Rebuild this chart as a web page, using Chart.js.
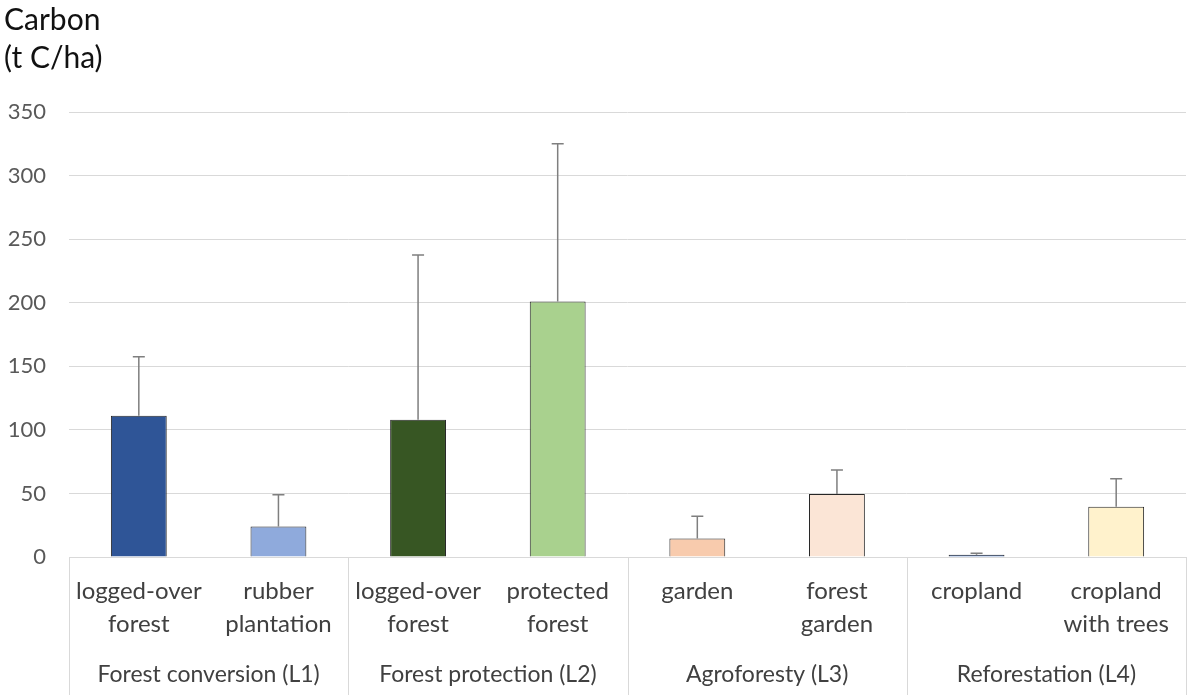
<!DOCTYPE html>
<html>
<head>
<meta charset="utf-8">
<script src="https://cdn.jsdelivr.net/npm/chart.js@4.4.0/dist/chart.umd.min.js"></script>
<style>
  body { margin: 0; background: #fff; }
  canvas { display: block; }
</style>
</head>
<body>
<canvas id="carbon-chart" width="1187" height="695"></canvas>
<script>
const categories = [
  ['logged-over', 'forest'], ['rubber', 'plantation'],
  ['logged-over', 'forest'], ['protected', 'forest'],
  ['garden'], ['forest', 'garden'],
  ['cropland'], ['cropland', 'with trees']
];
const groups = ['Forest conversion (L1)', 'Forest protection (L2)', 'Agroforesty (L3)', 'Reforestation (L4)'];
const carbon = [111, 24, 108, 201, 14.5, 49.5, 1.7, 39.5];
const errorUp = [46.5, 25, 129.5, 124, 17.5, 19, 1.3, 22];
const barColors = ['#2F5597', '#8FAADC', '#375623', '#A9D18E', '#F8CBAD', '#FBE5D6', '#3A6BC8', '#FFF2CC'];
const yTicks = [0, 50, 100, 150, 200, 250, 300, 350];

const FONT = 'Lato, "Liberation Sans", sans-serif';

// upward error bars drawn from the y scale
const errorBars = {
  id: 'errorBars',
  afterDatasetsDraw(chart) {
    const ctx = chart.ctx;
    const yScale = chart.scales.y;
    const meta = chart.getDatasetMeta(0);
    ctx.save();
    ctx.strokeStyle = '#7f7f7f';
    ctx.lineWidth = 1.5;
    meta.data.forEach((bar, i) => {
      const top = yScale.getPixelForValue(carbon[i] + errorUp[i]);
      ctx.beginPath();
      ctx.moveTo(bar.x, bar.y);
      ctx.lineTo(bar.x, top);
      ctx.moveTo(bar.x - 6, top);
      ctx.lineTo(bar.x + 6, top);
      ctx.stroke();
    });
    ctx.restore();
  }
};

// group labels + separators under the axis
const groupAxis = {
  id: 'groupAxis',
  afterDraw(chart) {
    const ctx = chart.ctx;
    const xScale = chart.scales.x;
    const step = xScale.width / categories.length;
    const top = chart.chartArea.bottom;
    const bottom = chart.height;
    ctx.save();
    ctx.strokeStyle = '#d9d9d9';
    ctx.lineWidth = 1;
    for (let g = 0; g <= groups.length; g++) {
      const x = g < groups.length
        ? xScale.getPixelForValue(g * 2) - step / 2
        : xScale.getPixelForValue(categories.length - 1) + step / 2;
      const px = Math.round(x) + 0.5;
      ctx.beginPath();
      ctx.moveTo(px, top);
      ctx.lineTo(px, bottom);
      ctx.stroke();
    }
    ctx.fillStyle = '#404040';
    ctx.font = '23px ' + FONT;
    ctx.textAlign = 'center';
    ctx.textBaseline = 'middle';
    groups.forEach((g, i) => {
      const x = (xScale.getPixelForValue(i * 2) + xScale.getPixelForValue(i * 2 + 1)) / 2;
      ctx.fillText(g, x, 675);
    });
    // y axis title
    ctx.fillStyle = '#111';
    ctx.font = '30px ' + FONT;
    ctx.textAlign = 'left';
    ctx.fillText('Carbon', 4, 20);
    ctx.fillText('(t C/ha)', 4, 58);
    ctx.restore();
  }
};

const ctx = document.getElementById('carbon-chart').getContext('2d');
new Chart(ctx, {
  type: 'bar',
  data: {
    labels: categories,
    datasets: [{
      data: carbon,
      backgroundColor: barColors,
      borderColor: '#262626',
      borderWidth: 1,
      barPercentage: 0.4,
      categoryPercentage: 1
    }]
  },
  options: {
    responsive: false,
    animation: false,
    layout: { padding: { top: 112, right: 1, left: 0, bottom: 0 } },
    plugins: {
      legend: { display: false },
      tooltip: { enabled: false }
    },
    scales: {
      x: {
        grid: { display: false },
        border: { display: true, color: '#d9d9d9' },
        ticks: {
          color: '#404040',
          font: { family: FONT, size: 24, lineHeight: 1.375 },
          padding: 10,
          maxRotation: 0,
          autoSkip: false
        },
        afterFit(scale) { scale.height = 138; }
      },
      y: {
        min: 0,
        max: 350,
        afterBuildTicks(scale) { scale.ticks = yTicks.map(v => ({ value: v })); },
        grid: { color: '#d9d9d9', drawTicks: false },
        border: { display: false },
        ticks: {
          color: '#595959',
          font: { family: FONT, size: 22 },
          padding: 23
        },
        afterFit(scale) { scale.width = 69; }
      }
    }
  },
  plugins: [errorBars, groupAxis]
});
</script>
</body>
</html>
